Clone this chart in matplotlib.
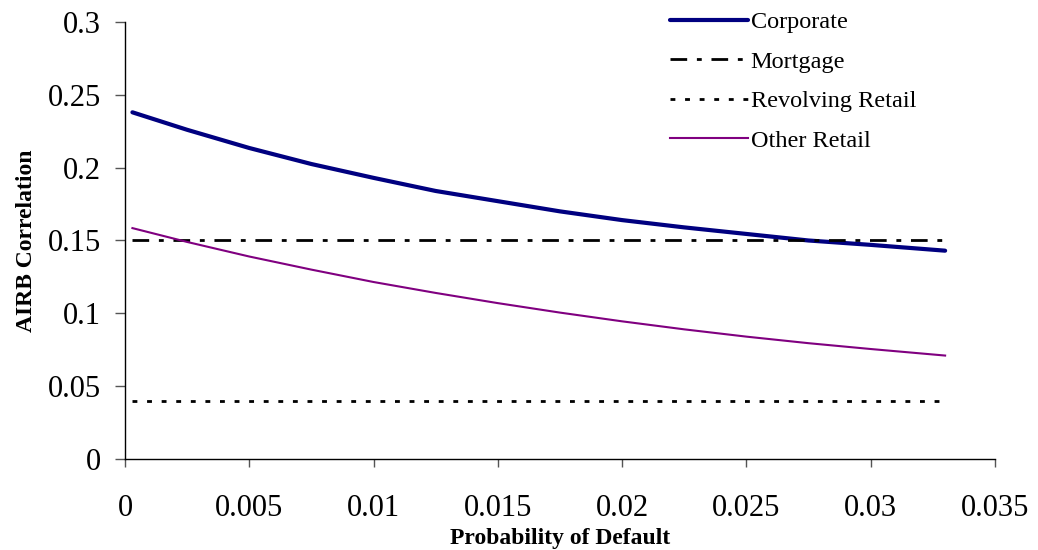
import matplotlib
matplotlib.use("Agg")
import matplotlib.pyplot as plt
from matplotlib.ticker import FuncFormatter

plt.rcParams['font.family'] = ['Liberation Serif', 'DejaVu Serif']
plt.rcParams['lines.scale_dashes'] = False

# probability of default (x) and correlations
pd_vals = [0.0003, 0.0025, 0.005, 0.0075, 0.01, 0.0125, 0.015, 0.0175,
           0.02, 0.0225, 0.025, 0.0275, 0.03, 0.033]
corporate = [0.238, 0.226, 0.2135, 0.2025, 0.193, 0.184, 0.177, 0.170,
             0.164, 0.159, 0.1545, 0.150, 0.147, 0.143]
mortgage = [0.15] * len(pd_vals)
revolving = [0.04] * len(pd_vals)
other_retail = [0.1585, 0.149, 0.139, 0.130, 0.1215, 0.114, 0.107, 0.1005,
                0.0945, 0.089, 0.084, 0.0795, 0.0755, 0.071]

x_ticks = [0, 0.005, 0.01, 0.015, 0.02, 0.025, 0.03, 0.035]
y_ticks = [0, 0.05, 0.1, 0.15, 0.2, 0.25, 0.3]

fig = plt.figure(figsize=(10.38, 5.5), dpi=100)
ax = fig.add_axes([0.1204, 0.1655, 0.838, 0.7945])

ax.plot(pd_vals, corporate, color='#000080', lw=3.0, solid_capstyle='round', label='Corporate')
ax.plot(pd_vals, mortgage, color='black', lw=2.0, dashes=(12, 7, 3.5, 7), label='Mortgage')
ax.plot(pd_vals, revolving, color='black', lw=2.0, dashes=(3.5, 7), label='Revolving Retail')
ax.plot(pd_vals, other_retail, color='#800080', lw=1.5, label='Other Retail')

ax.set_xlim(0, 0.035)
ax.set_ylim(0, 0.3)
ax.set_xticks(x_ticks)
ax.set_yticks(y_ticks)
fmt = FuncFormatter(lambda v, p: '%g' % round(v, 4))
ax.xaxis.set_major_formatter(fmt)
ax.yaxis.set_major_formatter(fmt)
for s in ['top', 'right']:
    ax.spines[s].set_visible(False)
for s in ['left', 'bottom']:
    ax.spines[s].set_linewidth(1.0)
ax.tick_params(axis='y', direction='out', length=7, width=1, color='#555555', labelsize=22, pad=10)
ax.tick_params(axis='x', direction='out', length=6, width=1, color='#555555', labelsize=22, pad=19)

ax.set_xlabel('Probability of Default', fontsize=17, fontweight='bold', labelpad=4)
ax.set_ylabel('AIRB Correlation', fontsize=17, fontweight='bold', labelpad=8)

ax.legend(loc='upper left', bbox_to_anchor=(0.636, 0.997), bbox_transform=fig.transFigure,
          frameon=False, fontsize=17.5, handlelength=3.2, handletextpad=0.12,
          labelspacing=0.72, borderaxespad=0)

fig.savefig('out.png', dpi=100)
